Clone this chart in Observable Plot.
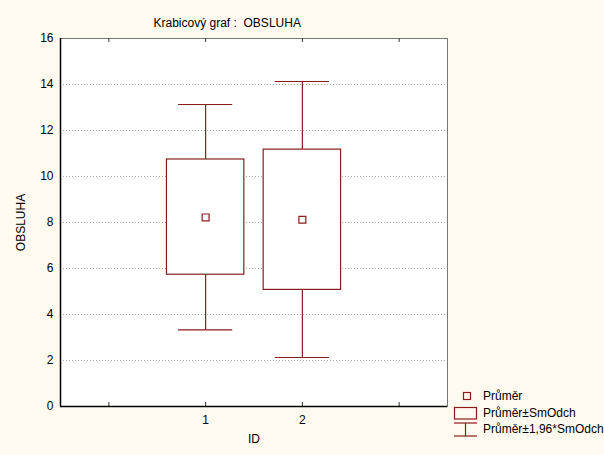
<!DOCTYPE html>
<html>
<head>
<meta charset="utf-8">
<script src="https://cdn.jsdelivr.net/npm/d3@7"></script>
<script src="https://cdn.jsdelivr.net/npm/@observablehq/plot@0.6"></script>
<style>
  html, body { margin: 0; padding: 0; background: #fffaf0; }
  #chart { width: 604px; height: 455px; }
</style>
</head>
<body>
<div id="chart"></div>
<script>
// Data
const ids = [1, 2];
const means = [8.22, 8.12];
const boxLow = [5.73, 5.07];      // Průměr − SmOdch
const boxHigh = [10.74, 11.17];   // Průměr + SmOdch
const whiskLow = [3.33, 2.13];    // Průměr − 1,96*SmOdch
const whiskHigh = [13.13, 14.13]; // Průměr + 1,96*SmOdch
const xTicks = [0, 1, 2, 3];
const yTicks = [0, 2, 4, 6, 8, 10, 12, 14, 16];
const gridTicks = [2, 4, 6, 8, 10, 12, 14];
const title = "Krabicový graf :\u00a0 OBSLUHA";
const legendLabels = ["Průměr", "Průměr±SmOdch", "Průměr±1,96*SmOdch"];

const data = ids.map((id, i) => ({
  id, mean: means[i], lo: boxLow[i], hi: boxHigh[i], wlo: whiskLow[i], whi: whiskHigh[i]
}));

const red = "#8b1c1c";
const W = 604, H = 455, mL = 60, mR = 157, mT = 38, mB = 49;
const innerH = H - mT - mB;

const chart = Plot.plot({
  width: W, height: H,
  marginLeft: mL, marginRight: mR, marginTop: mT, marginBottom: mB,
  style: { background: "#fffaf0", fontFamily: "'Liberation Sans', Arial, sans-serif", fontSize: "12px", color: "#000" },
  x: { domain: [-0.5, 3.5] },
  y: { domain: [0, 16] },
  marks: [
    Plot.frame({ fill: "white", stroke: null }),
    Plot.gridY(gridTicks, { stroke: "#aaa", strokeOpacity: 1, strokeDasharray: "1,2" }),
    Plot.frame({ stroke: "#777" }),
    Plot.axisY({ ticks: yTicks, tickSize: 0, tickPadding: 7, fontSize: 12, label: "OBSLUHA", labelAnchor: "center", labelArrow: "none", labelOffset: 44 }),
    Plot.axisX({ ticks: xTicks, tickSize: 0, tickPadding: 9, fontSize: 12, tickFormat: d => ids.includes(d) ? String(d) : "", label: "ID", labelAnchor: "center", labelArrow: "none", labelOffset: 36 }),
    Plot.ruleX(xTicks, { stroke: "#333", insetTop: innerH - 4 }),
    Plot.ruleX(xTicks, { stroke: "#333", insetBottom: innerH - 4 }),
    Plot.ruleX([-0.5], { stroke: "black", strokeWidth: 1.5 }),
    Plot.ruleY([0], { stroke: "black", strokeWidth: 1.5 }),
    Plot.ruleX(data, { x: "id", y1: "hi", y2: "whi", stroke: red, strokeWidth: 1.2 }),
    Plot.ruleX(data, { x: "id", y1: "wlo", y2: "lo", stroke: red, strokeWidth: 1.2 }),
    Plot.ruleY(data, { y: "whi", x1: d => d.id - 0.28, x2: d => d.id + 0.28, stroke: red, strokeWidth: 1.2 }),
    Plot.ruleY(data, { y: "wlo", x1: d => d.id - 0.28, x2: d => d.id + 0.28, stroke: red, strokeWidth: 1.2 }),
    Plot.rect(data, { x1: d => d.id - 0.4, x2: d => d.id + 0.4, y1: "lo", y2: "hi", fill: "white", stroke: red, strokeWidth: 1.2 }),
    Plot.dot(data, { x: "id", y: "mean", symbol: "square", r: 3.9, fill: "white", stroke: red, strokeWidth: 1.2 }),
    Plot.text([title], { frameAnchor: "top-left", dx: 93, dy: -20, textAnchor: "start", fontSize: 12 })
  ]
});

// Legend (annotation) drawn into the same SVG
const svg = d3.select(chart);
const lg = svg.append("g").attr("fill", "none").attr("stroke", red).attr("stroke-width", 1.2);
lg.append("rect").attr("x", 463.5).attr("y", 392.5).attr("width", 7).attr("height", 7);
lg.append("rect").attr("x", 454.5).attr("y", 407.5).attr("width", 22).attr("height", 11.5);
lg.append("line").attr("x1", 454).attr("x2", 477).attr("y1", 423).attr("y2", 423);
lg.append("line").attr("x1", 454).attr("x2", 477).attr("y1", 436).attr("y2", 436);
lg.append("line").attr("x1", 465.5).attr("x2", 465.5).attr("y1", 423).attr("y2", 436);
const lt = svg.append("g")
  .attr("font-family", "'Liberation Sans', Arial, sans-serif")
  .attr("font-size", 12)
  .attr("fill", "black")
  .attr("text-anchor", "start");
[396, 413, 429].forEach((y, i) => {
  lt.append("text").attr("x", 483).attr("y", y).attr("dy", "0.35em").attr("text-anchor", "start").text(legendLabels[i]);
});

document.getElementById("chart").appendChild(chart);
</script>
</body>
</html>
